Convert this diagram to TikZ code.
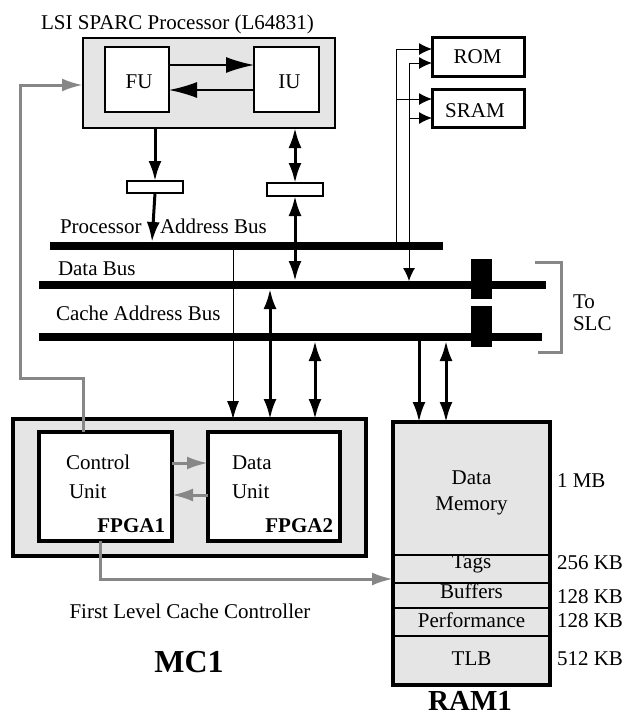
\documentclass[tikz,border=0pt]{standalone}
\usepackage{fontspec}
\setmainfont{Liberation Serif}
\usetikzlibrary{arrows.meta}
\definecolor{boxgray}{HTML}{E5E5E5}
\definecolor{wiregray}{HTML}{878787}

\begin{document}
\begin{tikzpicture}[x=1pt,y=-1pt,
  every node/.style={inner sep=0pt, outer sep=0pt},
  blk/.style={draw, anchor=north west, fill=white},
  bus/.style={fill=black, anchor=north west, minimum height=8pt},
  txt/.style={font=\fontsize{21}{25}\selectfont, anchor=base},
  txtl/.style={txt, anchor=base west},
  boldr/.style={font=\fontsize{21}{25}\selectfont\bfseries, anchor=base east},
  bigbold/.style={font=\fontsize{32}{36}\selectfont\bfseries, anchor=base},
  wire/.style={line width=1pt, >={Latex[length=13pt,width=12pt]}},
  bigwire/.style={line width=3pt, >={Latex[length=20pt,width=13pt]}},
  unitwire/.style={line width=1.5pt, >={Latex[length=28pt,width=16pt]}},
  graywire/.style={draw=wiregray, line width=3pt, >={Latex[length=21pt,width=13pt]}},
  divider/.style={line width=1.2pt}
]
\useasboundingbox (0,0) rectangle (632,712);

% ---------- processor ----------
\node[blk, fill=boxgray, line width=1.5pt, minimum width=252pt, minimum height=90pt] (proc) at (83,38) {};
\node[blk, line width=1.2pt, minimum width=64pt, minimum height=65pt] (fu) at (105,47) {};
\node[blk, line width=1.2pt, minimum width=65pt, minimum height=65pt] (iu) at (254,47) {};
\node[txt] (ttl) at (177.5,29) {LSI SPARC Processor (L64831)};
\node[txt] (fulbl) at (139,88) {FU};
\node[txt] (iulbl) at (289.5,88) {IU};

% ---------- latches ----------
\node[blk, line width=1.2pt, minimum width=56pt, minimum height=12pt] (latchA) at (127,181) {};
\node[blk, line width=1.2pt, minimum width=56pt, minimum height=13pt] (latchB) at (267,183) {};

% ---------- ROM / SRAM ----------
\node[blk, line width=3pt, minimum width=92pt, minimum height=39pt] (rom) at (432,37) {};
\node[blk, line width=3pt, minimum width=92pt, minimum height=38pt] (sram) at (432,89) {};
\node[txt] (romlbl) at (477.5,63) {ROM};
\node[txt] (sramlbl) at (475,117) {SRAM};

% ---------- buses ----------
\node[bus, minimum width=393pt] (pab) at (50,242) {};
\node[bus, minimum width=507pt] (db) at (39,281) {};
\node[bus, minimum width=503pt] (cab) at (39,333) {};
\node[fill=black, anchor=north west, minimum width=21pt, minimum height=40pt] (blkA) at (471,259) {};
\node[fill=black, anchor=north west, minimum width=21pt, minimum height=41pt] (blkB) at (471,306) {};
\node[txtl] (pablA) at (60,233) {Processor};
\node[txtl] (pablB) at (160,233) {Address Bus};
\node[txtl] (dblbl) at (58,275) {Data Bus};
\node[txtl] (cablbl) at (56,320) {Cache Address Bus};
\node[txtl] (slcA) at (573,308) {To};
\node[txtl] (slcB) at (573,330) {SLC};
\draw[wiregray, line width=3pt] (535,262) -| (561,352) -- (538,352);

% ---------- MC1 ----------
\node[blk, fill=boxgray, line width=4pt, minimum width=353pt, minimum height=137pt] (mc) at (13,419) {};
\node[blk, line width=3.5pt, minimum width=133pt, minimum height=109pt] (cu) at (39,432) {};
\node[blk, line width=3.5pt, minimum width=132pt, minimum height=109pt] (du) at (208,432) {};
\node[txtl] (cuA) at (66,469) {Control};
\node[txtl] (cuB) at (69,498) {Unit};
\node[boldr] (cuC) at (165,532) {FPGA1};
\node[txtl] (duA) at (232,469) {Data};
\node[txtl] (duB) at (232,498) {Unit};
\node[boldr] (duC) at (333,532) {FPGA2};
\node[txt] (flcc) at (190,618) {First Level Cache Controller};
\node[bigbold] (mclbl) at (189,672) {MC1};

% ---------- RAM1 ----------
\node[blk, fill=boxgray, line width=4pt, minimum width=157pt, minimum height=263pt] (ram) at (393,422) {};
\coordinate (d1) at (0,555);
\coordinate (d2) at (0,583);
\coordinate (d3) at (0,608);
\coordinate (d4) at (0,636);
\foreach \d in {d1,d2,d3,d4}
  \draw[divider] (ram.west |- \d) -- (ram.east |- \d);
\node[txt] (rmA) at (471.5,484) {Data};
\node[txt] (rmB) at (471.5,510) {Memory};
\node[txt] (rmC) at (471.5,568) {Tags};
\node[txt] (rmD) at (471.5,598) {Buffers};
\node[txt] (rmE) at (471.5,627) {Performance};
\node[txt] (rmF) at (471.5,665) {TLB};
\node[txtl] (szA) at (557,487) {1 MB};
\node[txtl] (szB) at (557,569) {256 KB};
\node[txtl] (szC) at (557,603) {128 KB};
\node[txtl] (szD) at (557,627) {128 KB};
\node[txtl] (szE) at (557,665) {512 KB};
\node[bigbold, font=\fontsize{29}{33}\selectfont\bfseries] (ramlbl) at (470,710) {RAM1};

% ---------- helper positions ----------
\coordinate (yfi) at (0,65);
\coordinate (yif) at (0,90);
\coordinate (xpa) at (152,0);
\coordinate (x233) at (233,0);
\coordinate (x270) at (270,0);
\coordinate (x315) at (315,0);
\coordinate (x419) at (419,0);
\coordinate (x446) at (446,0);
\coordinate (x396) at (396,0);
\coordinate (x409) at (409,0);
\coordinate (y49) at (0,49);
\coordinate (y63) at (0,63);
\coordinate (y99) at (0,99);
\coordinate (y118) at (0,118);
\coordinate (x83) at (83,0);
\coordinate (x100) at (100,0);
\coordinate (g1) at (20,378);
\coordinate (y85) at (0,85);
\coordinate (y463) at (0,463);
\coordinate (y495) at (0,495);
\coordinate (y579) at (0,579);

% ---------- connectors ----------
\draw[unitwire, ->] (fu.east |- yfi) -- (iu.west |- yfi);
\draw[unitwire, ->] (iu.west |- yif) -- (fu.east |- yif);

\draw[bigwire, ->] (proc.south -| latchA.north) -- (latchA.north);
\draw[bigwire, ->] (latchA.south) -- (pab.north -| xpa);
\draw[bigwire, <->] (proc.south -| latchB.north) -- (latchB.north);
\draw[bigwire, <->] (latchB.south) -- (db.north -| latchB.south);

\draw[wire, >={Latex[length=18pt,width=12pt]}, ->] (pab.south -| x233) -- (mc.north -| x233);
\draw[bigwire, <->] (db.south -| x270) -- (mc.north -| x270);
\draw[bigwire, <->] (cab.south -| x315) -- (mc.north -| x315);
\draw[bigwire, ->] (cab.south -| x419) -- (ram.north -| x419);
\draw[bigwire, <->] (cab.south -| x446) -- (ram.north -| x446);

\draw[wire, ->] (pab.north -| x396) |- (rom.west |- y49);
\draw[wire, ->] (x396 |- y99) -- (sram.west |- y99);
\draw[wire, <->] (rom.west |- y63) -| (db.north -| x409);
\draw[wire, ->] (x409 |- y118) -- (sram.west |- y118);

\draw[graywire, ->] (cu.north -| x83) |- (g1) |- (proc.west |- y85);
\draw[graywire, ->] (cu.east |- y463) -- (du.west |- y463);
\draw[graywire, ->] (du.west |- y495) -- (cu.east |- y495);
\draw[graywire, ->] (cu.south -| x100) |- (ram.west |- y579);
\end{tikzpicture}
\end{document}
